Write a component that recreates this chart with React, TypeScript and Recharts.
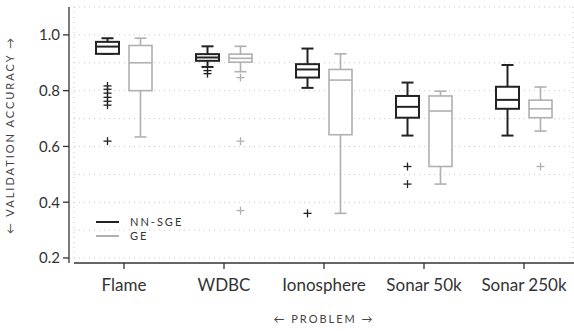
import { ComposedChart, Bar, XAxis, YAxis, CartesianGrid } from "recharts"

const problems = ["Flame", "WDBC", "Ionosphere", "Sonar 50k", "Sonar 250k"]

// NN-SGE
const nnLow = [0.932, 0.885, 0.81, 0.639, 0.639]
const nnQ1 = [0.932, 0.907, 0.847, 0.703, 0.735]
const nnMedian = [0.958, 0.919, 0.876, 0.742, 0.767]
const nnQ3 = [0.975, 0.931, 0.895, 0.781, 0.814]
const nnHigh = [0.988, 0.959, 0.951, 0.829, 0.892]
const nnOutliers = [
  [0.817, 0.805, 0.791, 0.776, 0.762, 0.748, 0.619],
  [0.872, 0.861],
  [0.36],
  [0.528, 0.465],
  [],
]

// GE
const geLow = [0.634, 0.868, 0.36, 0.465, 0.655]
const geQ1 = [0.8, 0.902, 0.642, 0.528, 0.703]
const geMedian = [0.9, 0.916, 0.838, 0.727, 0.735]
const geQ3 = [0.962, 0.931, 0.876, 0.781, 0.766]
const geHigh = [0.988, 0.959, 0.932, 0.798, 0.813]
const geOutliers = [[], [0.847, 0.619, 0.37], [], [], [0.528]]

const yTicks = [0.2, 0.4, 0.6, 0.8, 1.0]
const gridValues = [0.2, 0.3, 0.4, 0.5, 0.6, 0.7, 0.8, 0.9, 1.0, 1.1]

const data = problems.map((problem, i) => ({
  problem,
  nn: [nnLow[i], nnHigh[i]],
  nnStats: { q1: nnQ1[i], median: nnMedian[i], q3: nnQ3[i], outliers: nnOutliers[i] },
  ge: [geLow[i], geHigh[i]],
  geStats: { q1: geQ1[i], median: geMedian[i], q3: geQ3[i], outliers: geOutliers[i] },
}))

const FONT = "Lato, 'Noto Sans', sans-serif"
const DARK = "#222"
const LIGHT = "#b0b0b0"

function makeBox(key: "nn" | "ge", color: string, sw: number) {
  return (props: any) => {
    const { x, y, width, height, payload } = props
    const [lo, hi] = payload[key]
    const s = payload[key + "Stats"]
    // pixel position of a value, from the bar's own scaled range
    const py = (v: number) => y + ((hi - v) / (hi - lo)) * height
    const cx = x + width / 2
    const cap = 6
    return (
      <g>
        <line x1={cx} x2={cx} y1={py(hi)} y2={py(s.q3)} stroke={color} strokeWidth={sw} />
        <line x1={cx} x2={cx} y1={py(s.q1)} y2={py(lo)} stroke={color} strokeWidth={sw} />
        <line x1={cx - cap} x2={cx + cap} y1={py(hi)} y2={py(hi)} stroke={color} strokeWidth={sw} />
        <line x1={cx - cap} x2={cx + cap} y1={py(lo)} y2={py(lo)} stroke={color} strokeWidth={sw} />
        <rect
          x={x}
          y={py(s.q3)}
          width={width}
          height={py(s.q1) - py(s.q3)}
          fill="#fff"
          stroke={color}
          strokeWidth={sw}
        />
        <line x1={x} x2={x + width} y1={py(s.median)} y2={py(s.median)} stroke={color} strokeWidth={sw} />
        {s.outliers.map((v: number, j: number) => (
          <g key={j}>
            <line x1={cx - 4} x2={cx + 4} y1={py(v)} y2={py(v)} stroke={color} strokeWidth={1.3} />
            <line x1={cx} x2={cx} y1={py(v) - 4} y2={py(v) + 4} stroke={color} strokeWidth={1.3} />
          </g>
        ))}
      </g>
    )
  }
}

function LegendBox() {
  const items = [
    { name: "NN-SGE", color: DARK, w: 2 },
    { name: "GE", color: LIGHT, w: 2 },
  ]
  return (
    <div
      style={{
        position: "absolute",
        left: 96,
        top: 215,
        fontFamily: FONT,
        fontSize: 11,
        letterSpacing: 2,
        color: "#333",
        lineHeight: "14px",
      }}
    >
      {items.map((it) => (
        <div key={it.name} style={{ display: "flex", alignItems: "center", height: 14 }}>
          <span style={{ width: 23, borderTop: `${it.w}px solid ${it.color}`, marginRight: 11 }} />
          <span>{it.name}</span>
        </div>
      ))}
    </div>
  )
}

export default function App() {
  return (
    <div style={{ position: "absolute", left: 0, top: 0, width: 574, height: 331, background: "#fff" }}>
      <style>{`.recharts-yAxis { transform: translateX(-5px); }`}</style>
      <ComposedChart
        width={574}
        height={331}
        data={data}
        margin={{ top: 7, right: 0, bottom: 38, left: 24 }}
        barSize={23}
        barGap={10}
      >
        <CartesianGrid
          stroke="#c8c8c8"
          strokeDasharray="1 4"
          horizontalValues={gridValues}
          verticalPoints={[74, 573]}
        />
        <XAxis
          dataKey="problem"
          height={30}
          tick={{ fill: "#333", fontSize: 17, fontFamily: FONT }}
          tickSize={6}
          tickMargin={10}
          axisLine={{ stroke: "#333", strokeWidth: 1.3 }}
          tickLine={{ stroke: "#333", strokeWidth: 1.3 }}
          label={{
            value: "← PROBLEM →",
            position: "insideBottom",
            offset: -30,
            fill: "#444",
            fontSize: 11,
            fontFamily: FONT,
            letterSpacing: 2,
          }}
        />
        <YAxis
          type="number"
          domain={[0.182, 1.1]}
          ticks={yTicks}
          allowDataOverflow
          width={50}
          tickFormatter={(v) => v.toFixed(1)}
          tick={{ fill: "#333", fontSize: 15, fontFamily: FONT }}
          tickSize={6}
          tickMargin={8}
          axisLine={{ stroke: "#333", strokeWidth: 1.3 }}
          tickLine={{ stroke: "#333", strokeWidth: 1.3 }}
          label={{
            value: "← VALIDATION ACCURACY →",
            angle: -90,
            position: "insideLeft",
            offset: -14,
            style: { textAnchor: "middle" },
            fill: "#444",
            fontSize: 11,
            fontFamily: FONT,
            letterSpacing: 2,
          }}
        />
        <Bar dataKey="nn" name="NN-SGE" shape={makeBox("nn", DARK, 2)} isAnimationActive={false} />
        <Bar dataKey="ge" name="GE" shape={makeBox("ge", LIGHT, 1.6)} isAnimationActive={false} />
      </ComposedChart>
      <LegendBox />
    </div>
  )
}
